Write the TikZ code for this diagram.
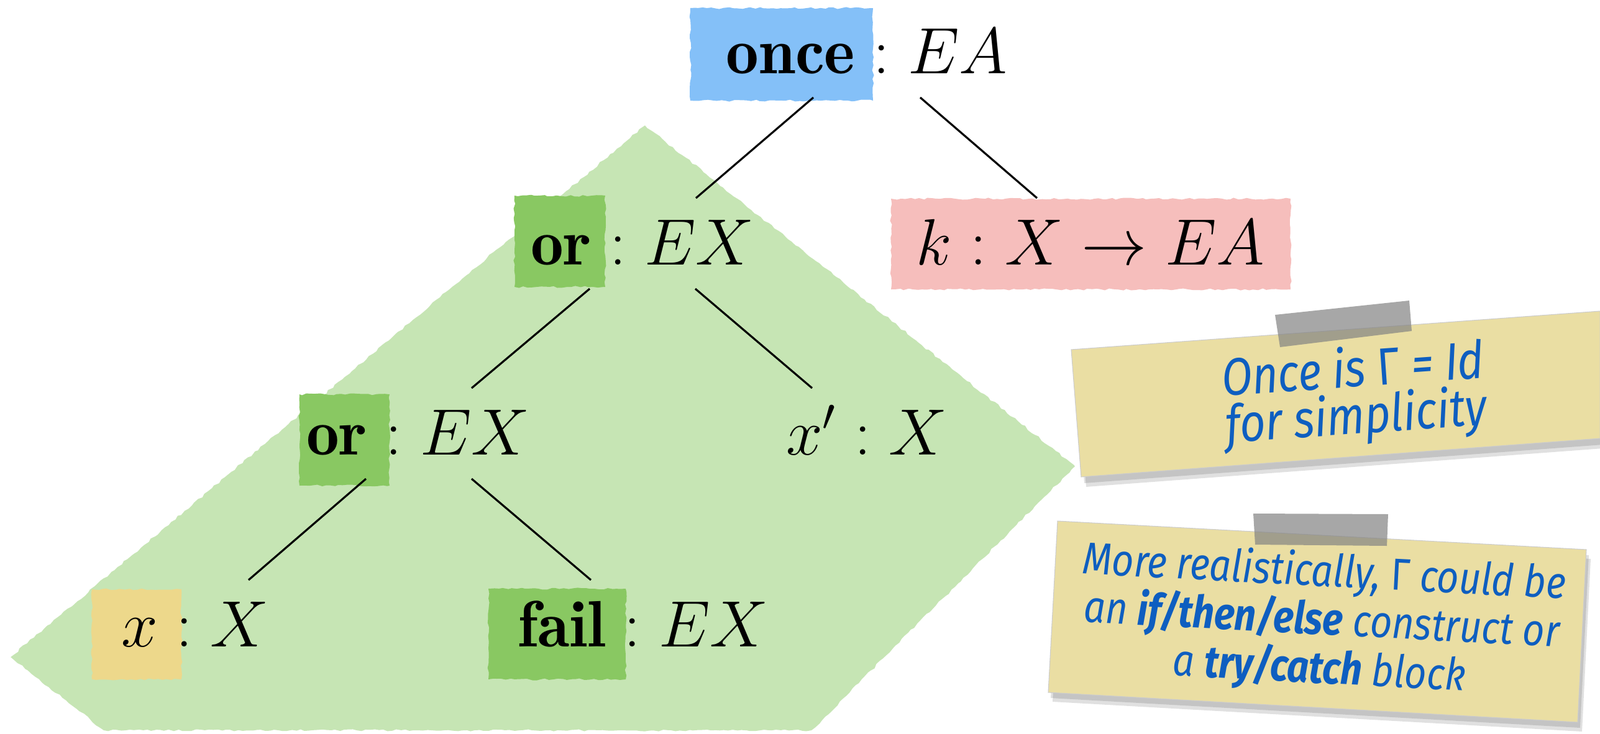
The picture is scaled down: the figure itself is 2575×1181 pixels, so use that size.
\RequirePackage{fix-cm}
\documentclass[tikz,border=0pt]{standalone}
\usepackage{fontspec}
\newfontfamily\handfont[FakeStretch=0.85]{Fira Sans}
\usetikzlibrary{calc,decorations.pathmorphing}
\definecolor{onceblue}{RGB}{132,192,248}
\definecolor{orgreen}{RGB}{137,200,98}
\definecolor{regiongreen}{RGB}{198,229,180}
\definecolor{kpink}{RGB}{246,190,188}
\definecolor{xyellow}{RGB}{237,216,139}
\definecolor{notey}{RGB}{234,222,163}
\definecolor{inkblue}{RGB}{14,94,192}
\definecolor{tapegray}{RGB}{131,131,131}
\tikzset{
  rough/.style={decorate, decoration={random steps, segment length=2pt, amplitude=0.45pt}},
  treelabel/.style={font=\fontsize{30}{36}\selectfont, anchor=base, inner sep=0pt},
  edge/.style={line width=0.9pt},
  notepaper/.style={fill=notey, draw=black!20, line width=0.3pt},
  notes/.style={fill=black, opacity=0.12},
  tape/.style={fill=tapegray, opacity=0.7},
  notetext/.style={text=inkblue, align=center, inner sep=0pt}
}
\begin{document}
\begin{tikzpicture}[x=0.01cm, y=-0.01cm]
\useasboundingbox (0,0) rectangle (2575,1181);
\fill[white] (0,0) rectangle (2575,1181);

% green region
\fill[regiongreen, rough] (1038,202) -- (1730,751) -- (1306,1176) -- (167,1176) -- (17,1058) -- cycle;

% sticky note 1
\fill[notes] (1729,573) -- (2580,511) -- (2580,716) -- (1745,778) -- cycle;
\fill[notes] (1732,579) -- (2580,517) -- (2580,722) -- (1748,784) -- cycle;
\fill[notepaper] (1724,563) -- (2575,501) -- (2575,706) -- (1740,768) -- cycle;
\fill[tape] (2052,507) -- (2268,484) -- (2272,533) -- (2060,559) -- cycle;
\node[notetext, rotate=4, font=\handfont\itshape\fontsize{24}{21.5}\selectfont] (n1) at (2180,637)
  {Once is {\upshape Γ} = Id\\for simplicity};

% sticky note 2
\fill[notes] (1706,848) -- (2557,894) -- (2543,1172) -- (1691,1124) -- cycle;
\fill[notes] (1709,854) -- (2560,900) -- (2546,1178) -- (1694,1130) -- cycle;
\fill[notepaper] (1702,839) -- (2553,885) -- (2539,1163) -- (1687,1115) -- cycle;
\fill[tape] (2017,827) -- (2234,828) -- (2232,879) -- (2020,877) -- cycle;
\node[notetext, rotate=-3, font=\handfont\itshape\fontsize{20.5}{20.5}\selectfont] (n2) at (2127,1002)
  {More realistically, {\upshape Γ} could be\\an {\bfseries if/then/else} construct or\\a {\bfseries try/catch} block};

% highlight boxes
\fill[onceblue, rough] (1111,13) rectangle (1405,162);
\fill[orgreen, rough] (828,315) rectangle (974,462);
\fill[kpink, rough] (1434,320) rectangle (2077,466);
\fill[orgreen, rough] (482,635) rectangle (627,782);
\fill[xyellow, rough] (148,949) rectangle (292,1094);
\fill[orgreen, rough] (786,948) rectangle (1007,1094);

% tree labels
\node[treelabel] (L0) at (1395,118) {$\mathbf{once} : EA$};
\node[treelabel] (L1) at (1034,426) {$\mathbf{or} : EX$};
\node[treelabel] (K)  at (1755,426) {$k : X \to EA$};
\node[treelabel] (L2) at (673,732) {$\mathbf{or} : EX$};
\node[treelabel] (XP) at (1395,732) {$x' : X$};
\node[treelabel] (XL) at (314,1041) {$x : X$};
\node[treelabel] (F)  at (1035,1041) {$\mathbf{fail} : EX$};

% edges
\draw[edge] ($(L0.base)+(-86,39)$) -- ($(L1.base)+(86,-107)$);
\draw[edge] ($(L0.base)+(86,39)$) -- ($(K.base)+(-86,-107)$);
\draw[edge] ($(L1.base)+(-85,39)$) -- ($(L2.base)+(86,-107)$);
\draw[edge] ($(L1.base)+(85,39)$) -- ($(XP.base)+(-88,-107)$);
\draw[edge] ($(L2.base)+(-84,39)$) -- ($(XL.base)+(86,-107)$);
\draw[edge] ($(L2.base)+(86,39)$) -- ($(F.base)+(-84,-107)$);
\end{tikzpicture}
\end{document}
